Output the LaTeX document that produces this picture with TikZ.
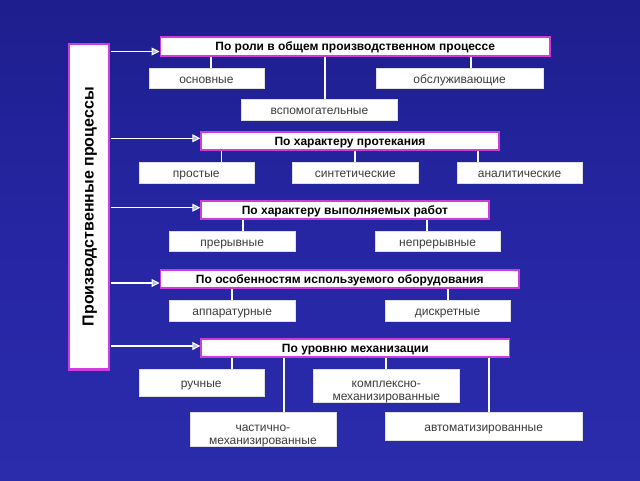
\documentclass[tikz,border=0pt]{standalone}
\usepackage{fontspec}
\setmainfont{Liberation Sans}
\usetikzlibrary{arrows.meta}
\definecolor{bgtop}{HTML}{1E1E8E}
\definecolor{bgmid}{HTML}{2626A4}
\definecolor{bgbot}{HTML}{2A2CAC}
\definecolor{magb}{HTML}{D03CDC}
\definecolor{lav}{HTML}{B8B8F0}
\definecolor{txtgray}{HTML}{3C3C3C}
\tikzset{
  hdr/.style={draw=magb, line width=1.8pt, fill=white, inner sep=0pt,
    font=\fontsize{12}{14}\selectfont\bfseries, text=black,
    text height=8.6pt, text depth=0pt},
  leaf/.style={draw=gray!25, line width=0.4pt, fill=white, inner sep=0pt,
    font=\fontsize{12}{15}\selectfont, text=txtgray,
    text height=10pt, text depth=0pt},
  leaftwo/.style={leaf, text height=18.5pt, text depth=15pt},
  conn/.style={draw=white!92!lav, line width=1.6pt},
  arr/.style={draw=white, line width=1.5pt,
    -{Triangle[length=8pt, width=8pt, line width=1pt, fill=lav]}},
}
\newcommand{\twolines}[2]{\begin{tabular}[t]{@{}c@{}}#1\\[-2pt]#2\end{tabular}}
\begin{document}
\begin{tikzpicture}[x=1pt,y=-1pt]
\useasboundingbox (0,0) rectangle (640,480);
\shade[top color=bgtop, bottom color=bgbot, middle color=bgmid] (0,0) rectangle (640,480);

% left box
\node[hdr, line width=2.2pt, minimum width=40pt, minimum height=325.5pt, text height=0pt, text depth=0pt] (L) at (88.6,206.7) {};
\node[rotate=90, font=\fontsize{16}{18}\selectfont\bfseries, text height=11.5pt, text depth=3.4pt, inner sep=0pt] (Lt) at ([xshift=1pt]L.center) {Производственные процессы};

% group 1
\node[hdr, minimum width=389.6pt, minimum height=18.4pt] (H1) at (355.2,46.5) {По роли в общем производственном процессе};
\node[leaf, minimum width=114.7pt, minimum height=20.6pt] (a1) at (206.4,78) {основные};
\node[leaf, minimum width=156.3pt, minimum height=21pt] (a2) at (319.4,109.2) {вспомогательные};
\node[leaf, minimum width=166.7pt, minimum height=20.6pt] (a3) at (459.6,78) {обслуживающие};

% group 2
\node[hdr, minimum width=297.6pt, minimum height=18.3pt] (H2) at (350,140.8) {По характеру протекания};
\node[leaf, minimum width=115pt, minimum height=21pt] (b1) at (196.3,172.2) {простые};
\node[leaf, minimum width=125.3pt, minimum height=21pt] (b2) at (355.3,172.2) {синтетические};
\node[leaf, minimum width=125.7pt, minimum height=21pt] (b3) at (519.6,172.2) {аналитические};

% group 3
\node[hdr, minimum width=287.4pt, minimum height=18.3pt] (H3) at (344.9,209.8) {По характеру выполняемых работ};
\node[leaf, minimum width=125.7pt, minimum height=20.6pt] (c1) at (232.2,241) {прерывные};
\node[leaf, minimum width=125.7pt, minimum height=20.6pt] (c2) at (437.6,241) {непрерывные};

% group 4
\node[hdr, minimum width=358.8pt, minimum height=18pt] (H4) at (339.8,279) {По особенностям используемого оборудования};
\node[leaf, minimum width=125.7pt, minimum height=21pt] (d1) at (232.2,310.2) {аппаратурные};
\node[leaf, minimum width=125.3pt, minimum height=21pt] (d2) at (447.6,310.2) {дискретные};

% group 5
\node[hdr, minimum width=308.2pt, minimum height=18.3pt] (H5) at (355.3,348.2) {По уровню механизации};
\node[leaf, minimum width=125pt, minimum height=27.6pt] (e1) at (201.2,382.5) {ручные};
\node[leaftwo, minimum width=146.1pt, minimum height=33.3pt] (e2) at (262.9,429.3) {\twolines{частично-}{механизированные}};
\node[leaftwo, minimum width=145.7pt, minimum height=33.6pt] (e3) at (386.3,385.5) {\twolines{комплексно-}{механизированные}};
\node[leaf, minimum width=197.5pt, minimum height=27.3pt] (e4) at (483.7,426.3) {автоматизированные};

% connectors
\draw[conn] (H1.south -| 211,0) -- (a1.north -| 211,0);
\draw[conn] (H1.south -| 325,0) -- (a2.north -| 325,0);
\draw[conn] (H1.south -| 471,0) -- (a3.north -| 471,0);
\draw[conn] (H2.south -| 221.6,0) -- (b1.north -| 221.6,0);
\draw[conn] (H2.south -| 355,0) -- (b2.north -| 355,0);
\draw[conn] (H2.south -| 478,0) -- (b3.north -| 478,0);
\draw[conn] (H3.south -| 243,0) -- (c1.north -| 243,0);
\draw[conn] (H3.south -| 427,0) -- (c2.north -| 427,0);
\draw[conn] (H4.south -| 232,0) -- (d1.north -| 232,0);
\draw[conn] (H4.south -| 448,0) -- (d2.north -| 448,0);
\draw[conn] (H5.south -| 232,0) -- (e1.north -| 232,0);
\draw[conn] (H5.south -| 283.7,0) -- (e2.north -| 283.7,0);
\draw[conn] (H5.south -| 386,0) -- (e3.north -| 386,0);
\draw[conn] (H5.south -| 489,0) -- (e4.north -| 489,0);

% arrows
\draw[arr] ([xshift=1pt]L.east |- 0,51.5) -- (H1.west |- 0,51.5);
\draw[arr] ([xshift=1pt]L.east |- 0,138.3) -- (H2.west |- 0,138.3);
\draw[arr] ([xshift=1pt]L.east |- 0,207.7) -- (H3.west |- 0,207.7);
\draw[arr] ([xshift=1pt]L.east |- 0,283) -- (H4.west |- 0,283);
\draw[arr] ([xshift=1pt]L.east |- 0,346) -- (H5.west |- 0,346);
\end{tikzpicture}
\end{document}
